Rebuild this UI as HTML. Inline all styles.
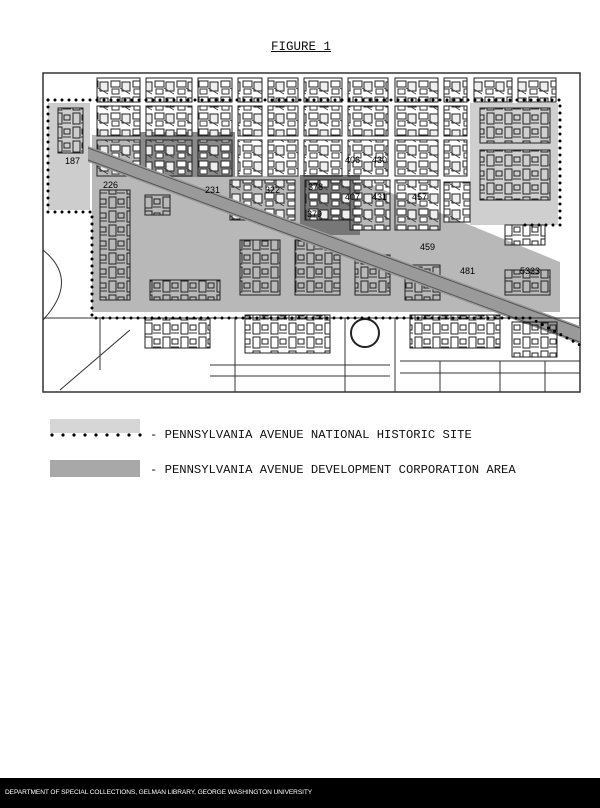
<!DOCTYPE html>
<html><head><meta charset="utf-8"><style>
html,body{margin:0;padding:0;background:#fff;}
body{width:600px;height:808px;position:relative;overflow:hidden;font-family:"Liberation Mono",monospace;color:#111;}
.t{position:absolute;white-space:nowrap;font-size:12.2px;}
#fig{left:271px;top:40px;font-size:12.5px;text-decoration:underline;}
#foot{position:absolute;left:0;top:778px;width:600px;height:30px;background:#000;}
#foot span{position:absolute;left:5px;top:11px;color:#fff;font-family:"Liberation Sans",sans-serif;font-size:6.6px;letter-spacing:-0.1px;}
</style></head><body>
<div class="t" id="fig">FIGURE 1</div>
<svg style="position:absolute;left:0;top:0" width="600" height="420" viewBox="0 0 600 420">
<defs>
<pattern id="bld" width="22" height="16" patternUnits="userSpaceOnUse">
<rect x="1" y="1" width="9" height="6" fill="#fff" stroke="#222" stroke-width="1"/>
<rect x="12" y="2" width="8" height="9" fill="#eee" stroke="#222" stroke-width="1"/>
<rect x="2" y="9" width="7" height="5" fill="#fff" stroke="#333" stroke-width="1"/>
<line x1="10" y1="8" x2="20" y2="14" stroke="#444"/>
</pattern>
<pattern id="bld2" width="18" height="14" patternUnits="userSpaceOnUse">
<rect x="1" y="1" width="7" height="11" fill="none" stroke="#222" stroke-width="1"/>
<rect x="10" y="3" width="6" height="5" fill="none" stroke="#222" stroke-width="1"/>
<line x1="9" y1="11" x2="17" y2="11" stroke="#333"/>
</pattern>
</defs>
<rect x="43" y="73" width="537" height="319" fill="#fff" stroke="#333" stroke-width="1.5"/>
<polygon points="92,135 196,135 196,176 350,176 560,262 560,312 92,312" fill="#b8b8b8"/>
<rect x="470" y="103" width="88" height="122" fill="#cfcfcf"/>
<rect x="48" y="103" width="42" height="107" fill="#cdcdcd"/>
<rect x="140" y="132" width="95" height="45" fill="#8a8a8a"/>
<rect x="300" y="175" width="60" height="60" fill="#777"/>
<g fill="url(#bld)" stroke="#222" stroke-width="1">
<rect x="97" y="78" width="43" height="24"/><rect x="146" y="78" width="46" height="24"/><rect x="198" y="78" width="34" height="24"/><rect x="238" y="78" width="24" height="24"/><rect x="268" y="78" width="30" height="24"/><rect x="304" y="78" width="38" height="24"/><rect x="348" y="78" width="40" height="24"/><rect x="395" y="78" width="43" height="24"/><rect x="444" y="78" width="23" height="24"/><rect x="474" y="78" width="38" height="24"/><rect x="518" y="78" width="38" height="24"/>
<rect x="97" y="106" width="43" height="30"/><rect x="146" y="106" width="46" height="30"/><rect x="198" y="106" width="34" height="30"/><rect x="238" y="106" width="24" height="30"/><rect x="268" y="106" width="30" height="30"/><rect x="304" y="106" width="38" height="30"/><rect x="348" y="106" width="40" height="30"/><rect x="395" y="106" width="43" height="30"/><rect x="444" y="106" width="23" height="30"/>
<rect x="97" y="140" width="43" height="36"/><rect x="146" y="140" width="46" height="36"/><rect x="198" y="140" width="34" height="36"/><rect x="238" y="140" width="24" height="36"/><rect x="268" y="140" width="30" height="36"/><rect x="304" y="140" width="38" height="36"/><rect x="348" y="140" width="40" height="36"/><rect x="395" y="140" width="43" height="36"/><rect x="444" y="140" width="23" height="36"/>
<rect x="305" y="180" width="50" height="40"/><rect x="350" y="180" width="40" height="50"/><rect x="395" y="180" width="45" height="50"/><rect x="444" y="182" width="26" height="40"/>
<rect x="230" y="180" width="65" height="40"/>
</g>
<g fill="url(#bld2)" stroke="#222" stroke-width="1">
<rect x="100" y="190" width="30" height="110"/><rect x="145" y="195" width="25" height="20"/>
<rect x="240" y="240" width="40" height="55"/><rect x="295" y="240" width="45" height="55"/><rect x="355" y="255" width="35" height="40"/>
<rect x="150" y="280" width="70" height="20"/><rect x="405" y="265" width="35" height="35"/>
<rect x="480" y="108" width="70" height="35"/><rect x="480" y="150" width="70" height="50"/>
<rect x="505" y="225" width="40" height="20"/><rect x="505" y="270" width="45" height="25"/>
<rect x="58" y="108" width="25" height="45"/>
</g>
<polygon points="88,146 580,326 580,344 88,162" fill="#9a9a9a"/>
<line x1="88" y1="148" x2="580" y2="328" stroke="#555" stroke-width="1"/>
<line x1="88" y1="160" x2="580" y2="342" stroke="#555" stroke-width="1"/>
<g fill="url(#bld2)" stroke="#222">
<rect x="145" y="318" width="65" height="30"/><rect x="245" y="315" width="85" height="38"/>
<rect x="410" y="315" width="90" height="33"/><rect x="512" y="322" width="45" height="35"/>
</g>
<circle cx="365" cy="333" r="14" fill="none" stroke="#222" stroke-width="2"/>
<g stroke="#333" stroke-width="1" fill="none">
<line x1="43" y1="318" x2="580" y2="318"/>
<line x1="400" y1="361" x2="580" y2="361"/><line x1="400" y1="373" x2="580" y2="373"/>
<line x1="440" y1="361" x2="440" y2="392"/><line x1="500" y1="361" x2="500" y2="392"/><line x1="545" y1="361" x2="545" y2="392"/>
<line x1="210" y1="365" x2="390" y2="365"/><line x1="210" y1="376" x2="390" y2="376"/>
<line x1="235" y1="318" x2="235" y2="392"/><line x1="345" y1="318" x2="345" y2="392"/>
<line x1="395" y1="318" x2="395" y2="392"/><line x1="100" y1="318" x2="100" y2="370"/>
<path d="M43,250 Q80,280 43,320"/><line x1="60" y1="390" x2="130" y2="330"/>
</g>
<g fill="none" stroke="#000" stroke-width="3" stroke-linecap="round" stroke-dasharray="0 7">
<path d="M48,100 L560,100 L560,225"/>
<path d="M48,100 L48,212 L92,212 L92,318 L530,318 L580,345"/>
<path d="M560,225 L520,225"/>
</g>
<g font-family="Liberation Sans,sans-serif" font-size="9" fill="#000">
<text x="65" y="164">187</text><text x="103" y="188">226</text><text x="205" y="193">231</text><text x="265" y="193">322</text>
<text x="308" y="190">378</text><text x="307" y="217">379</text><text x="345" y="163">406</text><text x="372" y="163">430</text>
<text x="345" y="200">407</text><text x="372" y="200">431</text><text x="412" y="200">457</text><text x="420" y="250">459</text>
<text x="460" y="274">481</text><text x="520" y="274">5333</text>
</g>
</svg>
<svg style="position:absolute;left:0;top:415" width="150" height="70">
<rect x="50" y="4" width="90" height="14" fill="#d6d6d6"/>
<g fill="#000"><circle cx="52" cy="20" r="1.6"/><circle cx="63" cy="20" r="1.6"/><circle cx="74" cy="20" r="1.6"/><circle cx="85" cy="20" r="1.6"/><circle cx="96" cy="20" r="1.6"/><circle cx="107" cy="20" r="1.6"/><circle cx="118" cy="20" r="1.6"/><circle cx="129" cy="20" r="1.6"/><circle cx="140" cy="20" r="1.6"/></g>
<rect x="50" y="45" width="90" height="17" fill="#a8a8a8"/>
</svg>
<div class="t" style="left:150px;top:428px;">- PENNSYLVANIA AVENUE NATIONAL HISTORIC SITE</div>
<div class="t" style="left:150px;top:463px;">- PENNSYLVANIA AVENUE DEVELOPMENT CORPORATION AREA</div>
<div id="foot"><span>DEPARTMENT OF SPECIAL COLLECTIONS, GELMAN LIBRARY, GEORGE WASHINGTON UNIVERSITY</span></div>
</body></html>
